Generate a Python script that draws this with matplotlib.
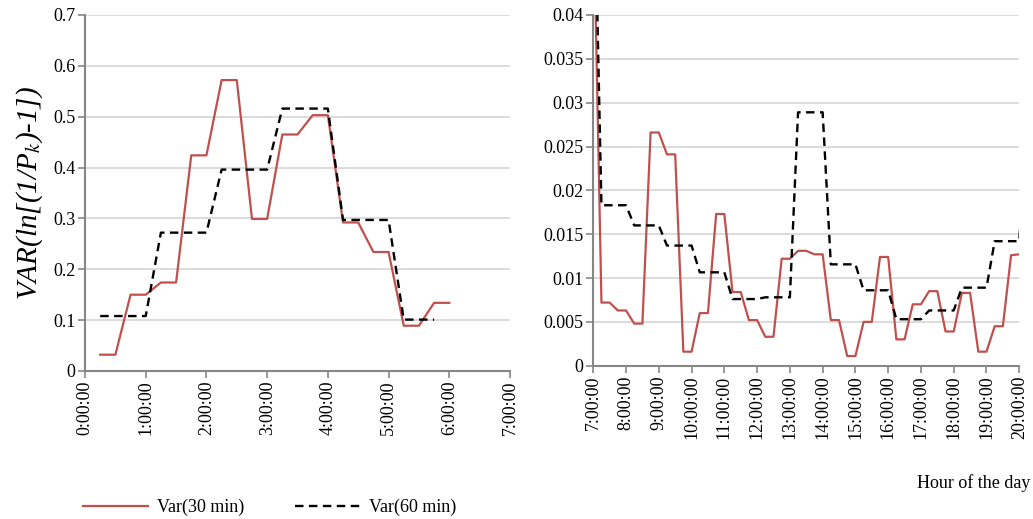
import numpy as np
import pandas as pd
import matplotlib
matplotlib.use("Agg")
import matplotlib.pyplot as plt

plt.rcParams['font.family'] = ['Liberation Serif', 'DejaVu Serif']
plt.rcParams['mathtext.fontset'] = 'stix'

# left panel: night hours (0:00 - 7:00), values every 15 min
night_30_times = pd.timedelta_range(start='0:15:00', periods=24, freq='15min')
night_30 = [0.032, 0.032, 0.150, 0.150, 0.174, 0.174, 0.424, 0.424,
            0.572, 0.572, 0.299, 0.299, 0.465, 0.465, 0.503, 0.503,
            0.292, 0.292, 0.234, 0.234, 0.089, 0.089, 0.134, 0.134]
night_60_times = pd.timedelta_range(start='0:15:00', periods=23, freq='15min')
night_60 = [0.108, 0.108, 0.108, 0.108, 0.272, 0.272, 0.272, 0.272,
            0.396, 0.396, 0.396, 0.396, 0.516, 0.516, 0.516, 0.516,
            0.297, 0.297, 0.297, 0.297, 0.101, 0.101, 0.101]
night_ticks = ['0:00:00', '1:00:00', '2:00:00', '3:00:00',
               '4:00:00', '5:00:00', '6:00:00', '7:00:00']
night_yticks = ['0', '0.1', '0.2', '0.3', '0.4', '0.5', '0.6', '0.7']

# right panel: day hours (7:00 - 20:00)
day_30_times = pd.timedelta_range(start='7:00:00', periods=53, freq='15min')
day_30 = [0.054,
          0.0072, 0.0072, 0.0063, 0.0063, 0.0048, 0.0048, 0.0266, 0.0266,
          0.0241, 0.0241, 0.0016, 0.0016, 0.0060, 0.0060, 0.0173, 0.0173,
          0.0084, 0.0084, 0.0052, 0.0052, 0.0033, 0.0033, 0.0122, 0.0122,
          0.0131, 0.0131, 0.0127, 0.0127, 0.0052, 0.0052, 0.0011, 0.0011,
          0.0050, 0.0050, 0.0124, 0.0124, 0.0030, 0.0030, 0.0070, 0.0070,
          0.0085, 0.0085, 0.0039, 0.0039, 0.0083, 0.0083, 0.0016, 0.0016,
          0.0045, 0.0045, 0.0126, 0.0127]
day_60_times = pd.timedelta_range(start='7:00:00', periods=54, freq='15min')
day_60 = [0.062,
          0.0183, 0.0183, 0.0183, 0.0183, 0.0160, 0.0160, 0.0160, 0.0160,
          0.0137, 0.0137, 0.0137, 0.0137, 0.01065, 0.01065, 0.01065, 0.01065,
          0.0076, 0.0076, 0.0076, 0.0076, 0.0078, 0.0078, 0.0078, 0.0078,
          0.0289, 0.0289, 0.0289, 0.0289, 0.01156, 0.01156, 0.01156, 0.01156,
          0.0086, 0.0086, 0.0086, 0.0086, 0.0053, 0.0053, 0.0053, 0.0053,
          0.0063, 0.0063, 0.0063, 0.0063, 0.0089, 0.0089, 0.0089, 0.0089,
          0.0142, 0.0142, 0.0142, 0.0142, 0.030]
day_ticks = ['7:00:00', '8:00:00', '9:00:00', '10:00:00', '11:00:00',
             '12:00:00', '13:00:00', '14:00:00', '15:00:00', '16:00:00',
             '17:00:00', '18:00:00', '19:00:00', '20:00:00']
day_yticks = ['0', '0.005', '0.01', '0.015', '0.02', '0.025',
              '0.03', '0.035', '0.04']

red = '#C0504D'
grey = '#868686'


def hours(t):
    return np.asarray(pd.to_timedelta(t).total_seconds()) / 3600.0


def style_axis(ax, xticks, xlabels, yticks, ylabels):
    ax.set_xticks(xticks)
    ax.set_xticklabels(xlabels, rotation=90, fontsize=13)
    ax.set_yticks(yticks)
    ax.set_yticklabels(ylabels, fontsize=13)
    ax.grid(axis='y', color='#d9d9d9', linewidth=1.3)
    ax.set_axisbelow(True)
    for s in ['top', 'right']:
        ax.spines[s].set_visible(False)
    for s in ['left', 'bottom']:
        ax.spines[s].set_color(grey)
        ax.spines[s].set_linewidth(1.5)
    ax.tick_params(direction='out', length=5, width=1.2, color=grey, pad=2)


fig = plt.figure(figsize=(10.33, 5.19), dpi=100)
ax1 = fig.add_axes([0.0823, 0.2852, 0.4114, 0.6859])
ax2 = fig.add_axes([0.5743, 0.2954, 0.4124, 0.6757])

l1, = ax1.plot(hours(night_30_times), night_30, color=red, lw=1.6)
l2, = ax1.plot(hours(night_60_times), night_60, color='black', lw=1.7,
               dashes=(3.6, 2.3))
ax1.set_xlim(0, 7)
ax1.set_ylim(0, 0.7)
style_axis(ax1, hours(night_ticks), night_ticks,
           [float(v) for v in night_yticks], night_yticks)
ax1.set_ylabel('VAR(ln[(1/P$_k$)-1])', fontsize=21, style='italic', labelpad=6)

ax2.plot(hours(day_30_times), day_30, color=red, lw=1.6)
ax2.plot(hours(day_60_times), day_60, color='black', lw=1.7, dashes=(3.6, 2.3))
ax2.set_xlim(7, 20)
ax2.set_ylim(0, 0.04)
style_axis(ax2, hours(day_ticks), day_ticks,
           [float(v) for v in day_yticks], day_yticks)

fig.text(0.997, 0.069, 'Hour of the day', ha='right', va='center', fontsize=13,
         transform=fig.transFigure)
fig.legend([l1, l2], ['Var(30 min)', 'Var(60 min)'], loc='center left',
           bbox_to_anchor=(0.065, 0.022), ncol=2, frameon=False, fontsize=13,
           handlelength=3.6, columnspacing=2.8, handletextpad=0.5)

fig.savefig('out.png', dpi=100)
